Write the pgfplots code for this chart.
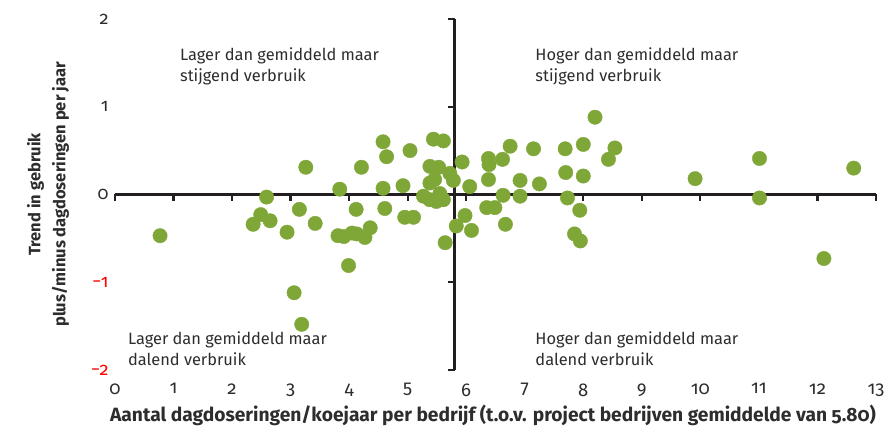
\documentclass[border=0pt]{standalone}
\usepackage{fontspec}
\setmainfont{Fira Sans}[Numbers=OldStyle]
\usepackage{pgfplots}
\pgfplotsset{compat=1.18}
\definecolor{dotgreen}{RGB}{127,167,56}
\definecolor{txtgray}{RGB}{45,45,45}
\definecolor{axblack}{RGB}{35,31,32}
\begin{document}
\begin{tikzpicture}
\begin{axis}[
  scale only axis,
  width=761pt, height=351pt,
  xmin=0, xmax=13, ymin=-2, ymax=2,
  axis line style={draw=none},
  major tick length=0pt,
  xtick={0,...,13},
  xticklabels={0,1,2,3,4,5,6,7,8,9,10,11,12,13},
  ytick={-2,-1,0,1,2},
  yticklabels={\textcolor{red}{−2},\textcolor{red}{−1},0,1,2},
  tick label style={font=\fontsize{18}{20}\selectfont, text=txtgray},
  xticklabel style={yshift=-10pt, font=\fontsize{18.5}{20}\selectfont},
  yticklabel style={xshift=-3pt, font=\fontsize{18}{20}\selectfont},
  clip=false,
]
\draw[axblack, line width=2.6pt] (axis cs:0,0) -- (axis cs:13,0);
\pgfplotsinvokeforeach{0,...,13}{\draw[axblack, line width=2.2pt] (axis cs:#1,0) -- ++(0pt,-7pt);}
\draw[axblack, line width=2.6pt] (axis cs:5.8,-2) -- (axis cs:5.8,2);
\pgfplotsinvokeforeach{-2,-1,0,1,2}{\draw[axblack, line width=2.2pt] (axis cs:5.8,#1) -- ++(-7pt,0pt);}
\addplot[only marks, mark=*, mark size=7.2pt, mark options={draw=dotgreen, fill=dotgreen}] coordinates {
(0.77,-0.47) (2.59,-0.03) (2.49,-0.23) (2.36,-0.34) (2.65,-0.30) (2.94,-0.43)
(3.15,-0.17) (3.26,0.31) (3.42,-0.33) (3.06,-1.12) (3.19,-1.48) (3.84,0.06)
(3.81,-0.47) (3.91,-0.48) (4.05,-0.44) (4.13,-0.45) (4.12,-0.17) (3.99,-0.81)
(4.21,0.31) (4.27,-0.49) (4.36,-0.38) (4.58,0.60) (4.64,0.43) (4.58,0.07)
(4.61,-0.16) (5.04,0.50) (4.92,0.10) (4.95,-0.26) (5.10,-0.26) (5.44,0.63)
(5.61,0.61) (5.38,0.32) (5.53,0.31) (5.72,0.24) (5.78,0.16) (5.38,0.13)
(5.46,0.17) (5.27,-0.02) (5.38,-0.06) (5.55,0.01) (5.61,-0.06) (5.49,-0.08)
(5.64,-0.55) (5.93,0.37) (6.06,0.09) (5.98,-0.24) (5.83,-0.36) (6.09,-0.41)
(6.38,0.41) (6.39,0.34) (6.62,0.40) (6.75,0.55) (6.38,0.17) (6.92,0.16)
(7.25,0.12) (7.15,0.52) (6.63,-0.01) (6.92,-0.02) (6.35,-0.15) (6.49,-0.15)
(6.67,-0.34) (7.69,0.52) (8.00,0.57) (7.70,0.25) (8.00,0.21) (7.73,-0.04)
(7.94,-0.18) (7.85,-0.45) (7.95,-0.53) (8.20,0.88) (8.54,0.53) (8.43,0.40)
(9.91,0.18) (11.01,0.41) (11.01,-0.04) (12.11,-0.73) (12.62,0.30)
};
\node[anchor=north west, align=left, text=txtgray, font=\fontsize{16.4}{21}\selectfont, inner sep=0pt] at (axis cs:1.11,1.67) {Lager dan gemiddeld maar\\stijgend verbruik};
\node[anchor=north west, align=left, text=txtgray, font=\fontsize{16.4}{21}\selectfont, inner sep=0pt] at (axis cs:7.18,1.67) {Hoger dan gemiddeld maar\\stijgend verbruik};
\node[anchor=north west, align=left, text=txtgray, font=\fontsize{16.4}{21}\selectfont, inner sep=0pt] at (axis cs:0.22,-1.56) {Lager dan gemiddeld maar\\dalend verbruik};
\node[anchor=north west, align=left, text=txtgray, font=\fontsize{16.4}{21}\selectfont, inner sep=0pt] at (axis cs:7.18,-1.56) {Hoger dan gemiddeld maar\\dalend verbruik};
\node[anchor=base, text=txtgray, font=\bfseries\fontsize{19.2}{22}\selectfont, inner sep=0pt] at (axis cs:6.457,-2.593) {Aantal dagdoseringen/koejaar per bedrijf (t.o.v. project bedrijven gemiddelde van 5.80)};
\node[rotate=90, align=center, text=txtgray, font=\bfseries\fontsize{16.5}{25}\selectfont, inner sep=0pt] at (axis cs:-1.145,0) {Trend in gebruik\\plus/minus dagdoseringen per jaar};
\coordinate (bl) at (axis cs:-1.964,-2.695);
\coordinate (tr) at (axis cs:13.188,2.216);
\end{axis}
\pgfresetboundingbox
\path (bl) rectangle (tr);
\end{tikzpicture}
\end{document}
